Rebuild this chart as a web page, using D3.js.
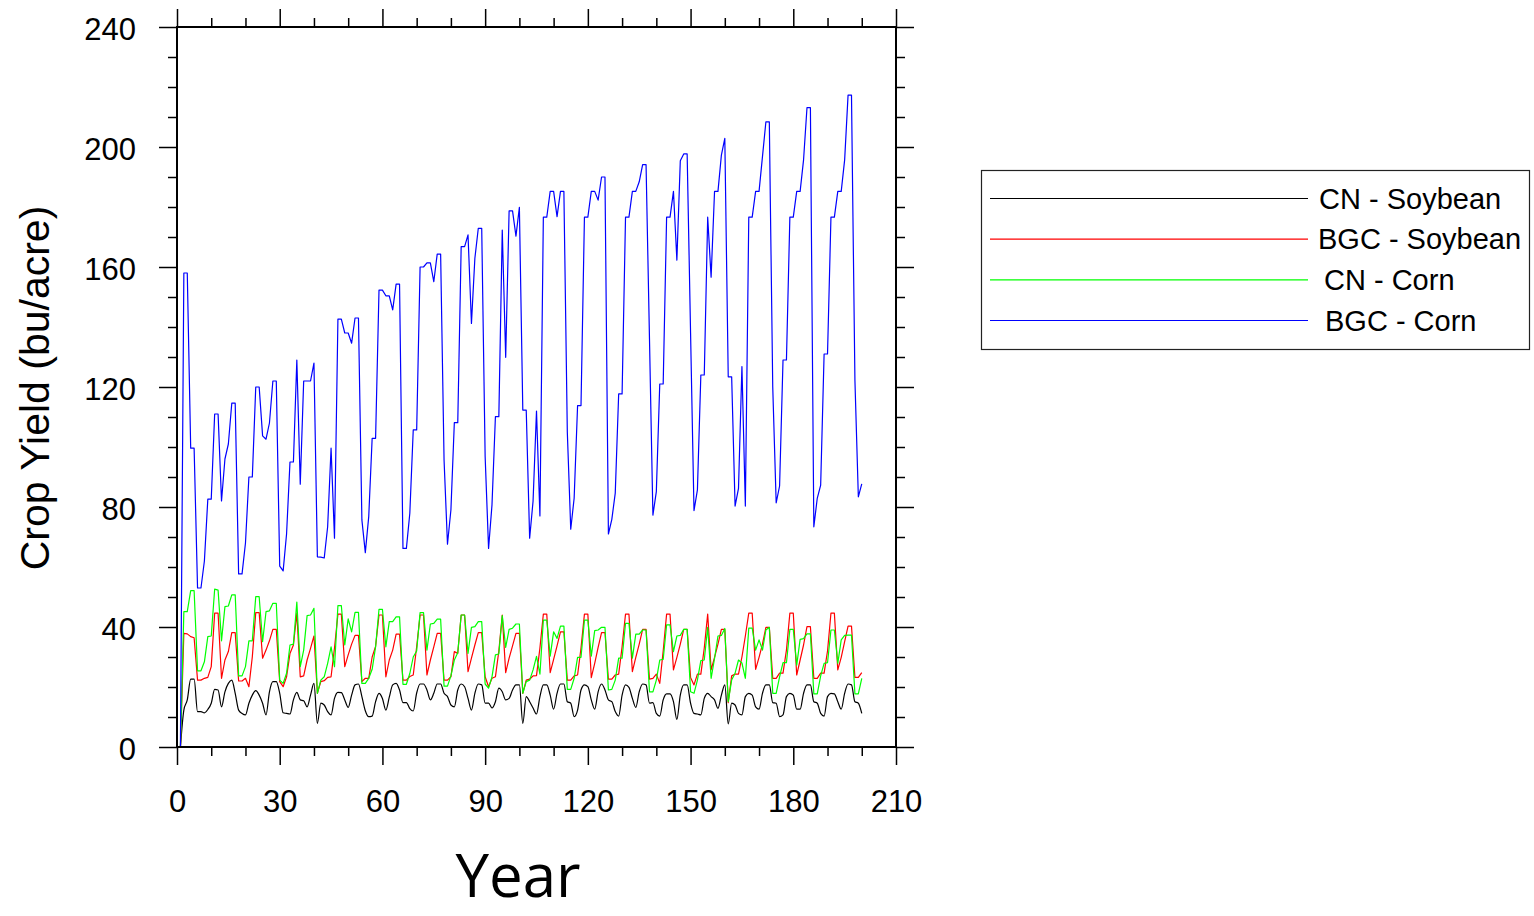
<!DOCTYPE html>
<html>
<head>
<meta charset="utf-8">
<script src="https://cdn.jsdelivr.net/npm/d3@7"></script>
<style>
  html, body { margin: 0; padding: 0; background: #ffffff; }
  svg { display: block; }
  text { font-family: "Liberation Sans", Arial, Helvetica, sans-serif; fill: #000; }
</style>
</head>
<body>
<svg id="chart" width="1534" height="916"></svg>
<script>
// Simulation years
const years = d3.range(1, 201);

// Crop yield (bu/acre) per year, one array per model/crop
const cnSoybean = [
  0,12.3,15.7,22.6,22.6,11.8,11.8,11.4,12.5,14.6,
  19.2,19,13.4,18.4,21.2,22.3,17.9,12.3,11.2,10.7,
  14.6,17.3,18.8,17.3,14.6,10.7,18.4,21.8,21.8,17.9,
  11.4,11.2,11,15.7,18.2,15.7,15.4,13.4,17.3,21.2,
  7.9,14.6,14,11.8,10.7,16.2,18.2,18.1,15.7,13.2,
  17.3,20.7,21,16.8,12.1,10.1,10.3,15.1,17.9,16.2,
  12.3,16.6,20.7,21.2,19,14.8,14.8,12.8,12,18,
  21,21,19,15.7,17.9,21,21,17.9,16.8,14,
  13.4,19,21,20.1,16.2,12.3,17.9,21,20.7,14.6,
  14.6,13,15.1,19.6,18.4,15.7,16.2,19,20.7,20.7,
  7.9,16.8,15.1,13,11,16.8,20.7,20.7,17.3,12.6,
  17.9,21,21,15.1,14.6,10.1,12.3,19,20.7,20.1,
  15.7,12.6,18.4,21,19,15.7,15.1,11.8,10.3,17.3,
  20.7,19.9,16.2,13.2,18.4,21,20.7,14.6,14.8,11.2,
  10.3,15.7,17.7,17.7,15.1,9.2,17.3,20.7,20.7,14.6,
  11.2,11,10.7,16.2,17.9,16.8,15.7,12.9,17.3,20.7,
  7.7,14.6,14,11.2,10.7,16.8,17.9,17.3,13.4,12.6,
  17.9,20.7,20.7,14.8,14.6,10.1,10.7,16.8,17.9,17.3,
  12.6,12.6,17.9,20.7,20.7,15.1,14.6,11.2,10.3,16.8,
  17.9,17.7,15.1,12.6,17.9,21,20.7,15.1,14.6,11.2
];

const bgcSoybean = [
  0,37.9,37.7,36.8,36.4,22.3,22.3,22.9,23.2,26.8,
  44.6,44.6,22.9,29,31.8,38.1,38.1,22,22,22.9,
  20.1,30.1,44.8,44.8,29.6,32.3,35.4,39.2,39.2,21.8,
  20.1,23.4,31.2,34,44.6,23.4,23.7,29,32.9,37,
  17.9,21.8,22.1,23.2,23.4,33,44.3,44.3,26.8,30.7,
  34.3,37.2,37.2,21.8,22.9,22.9,30,33.5,44,44,
  23.4,29,32.3,37.6,37.6,22.3,22.3,23.5,24,33.4,
  44,44,24,29,33.4,37.9,37.9,22.3,22.3,23.4,
  31.8,31.2,44,44,25.1,29.6,34,38.1,38.1,23.4,
  20.1,22.9,23.4,32,44,24.8,29.6,33.7,37.9,37.9,
  17.9,22.3,22.6,23.7,23.8,33,44.3,44.3,24.8,29.2,
  33.7,38.4,38.4,22.3,22.3,23.7,24,33,44.3,44.3,
  23.1,27.9,33.2,38.1,38.1,22.6,22.6,24,24.3,33.4,
  44.3,44.3,25.1,29.9,34.3,39.2,39.2,22.6,22.9,24.3,
  21.2,32,44.3,44.3,25.7,29.9,34.3,39.2,39.2,23.2,
  20.7,24.3,24.3,33,44.3,25.7,29.9,34.3,39.2,39.2,
  14.8,23.7,24.3,24.3,30,37,44.6,44.6,25.9,29.9,
  34.3,39.9,39.9,22.9,22.9,24.6,24.6,32.3,44.6,44.6,
  24,29,34,40.1,40.1,22.9,22.9,24.6,24.6,32,
  44.6,44.6,25.7,29.9,35.1,40.3,40.3,23.2,23.2,24.8
];

const cnCorn = [
  0,45.1,45.1,52.1,52.1,25.4,25.4,28.4,36.8,37,
  52.6,52.3,35.4,46.8,47,50.7,50.7,23.7,23.7,26.8,
  35.4,35.4,50.1,50.1,35.1,45.1,45.4,47.9,47.9,22.3,
  21.2,24.6,34,34.3,48.3,26.8,32.3,43.8,44,46.2,
  17.9,22.3,23.4,27.9,33.4,26.8,47.1,47.1,34,42.7,
  38.4,44.9,44.9,21.2,21.2,22.9,25.9,33.4,45.9,45.9,
  33.4,41.8,41.8,43.4,43.4,20.9,20.9,24.5,30,32,
  44.8,44.8,32.3,41,41.2,42.6,42.6,20.3,20.3,23.7,
  29,31.4,44,44,31.2,39.9,40.1,41.8,41.8,21,
  19.6,23.4,30.7,31,43.8,33.2,39.2,39.6,41,41,
  17.9,21.8,22.3,25.7,30.2,24.3,42.3,42.3,30.3,38.4,
  36.2,40.3,40.3,19.2,19.2,22.9,29.9,29.9,42.3,42.3,
  30.3,38.8,39,39.9,39.9,19,19.2,22.3,29.6,29.6,
  41.2,41.2,29.6,37.6,37.6,39,39,18.4,18.4,22.3,
  29,29.2,40.7,40.7,31.8,37,37.2,39.2,39.2,18.4,
  17.9,22.3,28.8,29,39.9,22.9,29.5,37,37.2,39.5,
  15.1,22.3,24.6,29,28,22.9,39.6,39.6,32.3,35.7,
  32.3,39,39.9,17.9,17.9,23.4,28.1,28.1,39.2,39.2,
  27.3,35.9,36.1,37.7,37.7,17.7,17.7,23.7,27.9,28.1,
  39,39,27.9,35.7,37.2,37.3,37.3,17.7,17.7,22.9
];

const bgcCorn = [
  0,158,158,99.6,99.6,53,53,62,82.6,82.6,
  111,111,82,96,101,114.6,114.6,57.7,57.7,68,
  90,90,120,120,103.7,102.6,108,122,122,60.3,
  58.7,71,95,95,129,87.6,122,122,122,128,
  63.4,63.3,63,73.4,99.6,69.6,142.6,142.6,138,138,
  134.6,143,143,75.7,64.8,76.8,102.9,102.9,152.3,152.3,
  150.4,150.4,145.7,154.3,154.3,66.2,66.2,77.9,105.7,105.7,
  160,160,161.4,161.4,155.1,164.3,164.3,95.7,67.6,79,
  108.1,108.1,166.8,166.8,170.7,141.2,162.9,172.9,172.9,96.8,
  66.2,80.7,110.1,110.1,172.3,129.9,178.7,178.7,170.3,179.9,
  112.3,112.3,69.6,82,112,77,176.6,176.6,185.2,185.2,
  176.8,185.2,185.2,105,72.6,83,113.8,113.8,176.6,176.6,
  185.2,185.2,182.3,190,190,71,75.9,84.6,117.7,117.7,
  176.6,176.6,185.2,185.2,188.4,194.1,194.1,136,77.3,85.1,
  121,121,176.6,176.6,185.2,162.3,195.4,197.7,197.7,138,
  78.8,85.7,124,124,176.6,156.6,185.2,185.2,197.3,202.9,
  123.4,123.4,80.3,86.2,126.8,80.3,176.6,176.6,185.2,185.2,
  196.8,208.4,208.4,120,81.4,87,129,129,176.6,176.6,
  185.2,185.2,195.7,213.1,213.1,73.4,82.9,87.3,131,131,
  176.6,176.6,185.2,185.2,195.7,217.3,217.3,122.3,83.4,87.7
];

const seriesNames = ["CN - Soybean", "BGC - Soybean", "CN - Corn", "BGC - Corn"];
const seriesColors = ["#000000", "#ff0000", "#00ff00", "#0000ff"];
const seriesValues = [cnSoybean, bgcSoybean, cnCorn, bgcCorn];

const xTicks = [0, 30, 60, 90, 120, 150, 180, 210];
const yTicks = [0, 40, 80, 120, 160, 200, 240];
const xLabel = "Year";
const yLabel = "Crop Yield (bu/acre)";

// ---- layout ----
const plot = { left: 177, right: 896, top: 27, bottom: 747 };
const majorLen = 18, minorLen = 9;

const svg = d3.select("#chart");

const x = d3.scaleLinear().domain([0, 210]).range([plot.left, plot.right]);
const y = d3.scaleLinear().domain([0, 240]).range([plot.bottom, plot.top]);

const xMinor = d3.range(0, 211, 10).filter(v => v % 30 !== 0);
const yMinor = d3.range(0, 241, 10).filter(v => v % 40 !== 0);

function styleAxis(g) {
  g.select(".domain").remove();
  g.selectAll(".tick line").attr("stroke", "#000").attr("stroke-width", 1.5);
  g.selectAll(".tick text").attr("font-size", 31).attr("fill", "#000");
}

// bottom axis (labelled)
svg.append("g")
  .attr("transform", `translate(0,${plot.bottom})`)
  .call(d3.axisBottom(x).tickValues(xTicks).tickSize(majorLen).tickPadding(25).tickFormat(d3.format("d")))
  .call(styleAxis)
  .call(g => g.selectAll(".tick text").attr("font-family", "Liberation Sans, Arial, sans-serif"));
svg.append("g")
  .attr("transform", `translate(0,${plot.bottom})`)
  .call(d3.axisBottom(x).tickValues(xMinor).tickSize(minorLen).tickFormat(""))
  .call(styleAxis);

// top axis (ticks only)
svg.append("g")
  .attr("transform", `translate(0,${plot.top})`)
  .call(d3.axisTop(x).tickValues(xTicks).tickSize(majorLen).tickFormat(""))
  .call(styleAxis);
svg.append("g")
  .attr("transform", `translate(0,${plot.top})`)
  .call(d3.axisTop(x).tickValues(xMinor).tickSize(minorLen).tickFormat(""))
  .call(styleAxis);

// left axis (labelled)
svg.append("g")
  .attr("transform", `translate(${plot.left},0)`)
  .call(d3.axisLeft(y).tickValues(yTicks).tickSize(majorLen).tickPadding(23).tickFormat(d3.format("d")))
  .call(styleAxis)
  .call(g => g.selectAll(".tick text").attr("dy", "0.39em"));
svg.append("g")
  .attr("transform", `translate(${plot.left},0)`)
  .call(d3.axisLeft(y).tickValues(yMinor).tickSize(minorLen).tickFormat(""))
  .call(styleAxis);

// right axis (ticks only)
svg.append("g")
  .attr("transform", `translate(${plot.right},0)`)
  .call(d3.axisRight(y).tickValues(yTicks).tickSize(majorLen).tickFormat(""))
  .call(styleAxis);
svg.append("g")
  .attr("transform", `translate(${plot.right},0)`)
  .call(d3.axisRight(y).tickValues(yMinor).tickSize(minorLen).tickFormat(""))
  .call(styleAxis);

// data lines
const lineLinear = d3.line().x((d, i) => x(years[i])).y(d => y(d));
const lineSmooth = d3.line().x((d, i) => x(years[i])).y(d => y(d)).curve(d3.curveMonotoneX);

const linesG = svg.append("g");
seriesValues.forEach((vals, k) => {
  linesG.append("path")
    .datum(vals)
    .attr("fill", "none")
    .attr("stroke", seriesColors[k])
    .attr("stroke-width", 1.2)
    .attr("stroke-linejoin", "round")
    .attr("d", k === 0 ? lineSmooth : lineLinear);
});

// plot frame
svg.append("rect")
  .attr("x", plot.left).attr("y", plot.top)
  .attr("width", plot.right - plot.left).attr("height", plot.bottom - plot.top)
  .attr("fill", "none").attr("stroke", "#000").attr("stroke-width", 2);

// axis titles
svg.append("text")
  .attr("transform", `translate(49,388) rotate(-90)`)
  .attr("text-anchor", "middle")
  .attr("font-size", 41)
  .text(yLabel);

svg.append("text")
  .attr("x", 518).attr("y", 897)
  .attr("text-anchor", "middle")
  .attr("font-size", 60)
  .style("font-family", "'Open Sans', 'Noto Sans', sans-serif")
  .text(xLabel);

// legend
const legend = svg.append("g");
legend.append("rect")
  .attr("x", 981.5).attr("y", 170.5).attr("width", 548).attr("height", 179)
  .attr("fill", "#fff").attr("stroke", "#222").attr("stroke-width", 1.2);

const legendRow = d3.scalePoint().domain(seriesNames).range([198.5, 320.5]);
const labelStart = { "CN - Soybean": 1319, "BGC - Soybean": 1318, "CN - Corn": 1324, "BGC - Corn": 1325 };

seriesNames.forEach((name, k) => {
  const ly = legendRow(name);
  legend.append("line")
    .attr("x1", 990).attr("x2", 1308)
    .attr("y1", ly).attr("y2", ly)
    .attr("stroke", seriesColors[k]).attr("stroke-width", 1.2);
  legend.append("text")
    .attr("x", labelStart[name]).attr("y", ly + 10)
    .attr("font-size", 29)
    .text(name);
});
</script>
</body>
</html>
